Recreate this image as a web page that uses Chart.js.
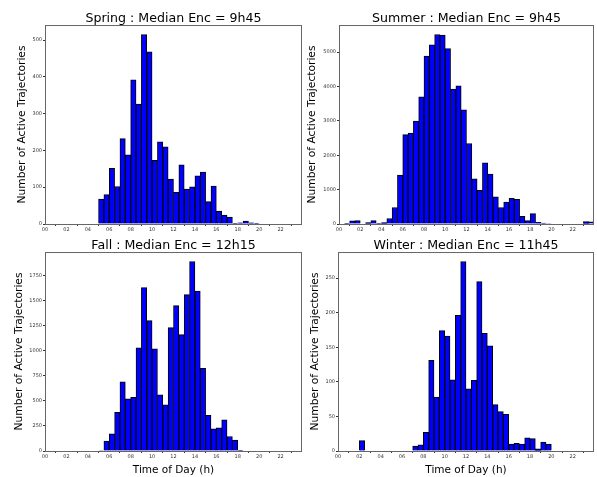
<!DOCTYPE html>
<html>
<head>
<meta charset="utf-8">
<script src="https://cdn.jsdelivr.net/npm/chart.js@4.4.1/dist/chart.umd.min.js"></script>
<style>
  body { margin: 0; background: #fff; }
  #wrap { position: relative; width: 597px; height: 477px; overflow: hidden; }
  canvas { position: absolute; }
</style>
</head>
<body>
<div id="wrap">
  <canvas id="spring" width="305" height="240" style="left:0;top:0"></canvas>
  <canvas id="summer" width="292" height="240" style="left:305px;top:0"></canvas>
  <canvas id="fall" width="305" height="247" style="left:0;top:230px"></canvas>
  <canvas id="winter" width="292" height="247" style="left:305px;top:230px"></canvas>
</div>
<script>
// 30-minute bins, 00h00 -> 24h00 (48 bins)
const binCenters = Array.from({ length: 48 }, (_, i) => i * 0.5 + 0.25);
const hourTicks = [0, 2, 4, 6, 8, 10, 12, 14, 16, 18, 20, 22];

const springCounts = [0, 0, 0, 0, 0, 0, 0, 0, 0, 0,
  68, 80, 151, 102, 232, 188, 392, 326, 515, 468,
  173, 223, 210, 122, 86, 161, 95, 101, 131, 141,
  61, 103, 35, 24, 19, 2, 3, 8, 3, 1,
  0, 0, 0, 0, 0, 0, 0, 0];

const summerCounts = [0, 10, 90, 100, 0, 40, 100, 5, 40, 160,
  480, 1420, 2600, 2640, 2990, 3700, 4880, 5210, 5510, 5490,
  5100, 3920, 4020, 3320, 2340, 1310, 980, 1780, 1450, 790,
  480, 640, 750, 720, 220, 100, 300, 50, 30, 15,
  0, 0, 0, 0, 0, 0, 70, 60];

const fallCounts = [0, 0, 0, 0, 0, 0, 0, 0, 0, 0,
  5, 100, 170, 385, 690, 520, 535, 1030, 1630, 1300,
  1020, 560, 460, 1230, 1450, 1160, 1560, 1890, 1595, 825,
  355, 220, 230, 310, 145, 110, 2, 0, 0, 0,
  0, 0, 0, 0, 0, 0, 0, 0];

const winterCounts = [0, 0, 0, 0, 15, 0, 0, 0, 0, 0,
  0, 0, 0, 0, 7, 9, 27, 131, 78, 174,
  166, 103, 196, 274, 90, 102, 245, 170, 152, 67,
  57, 53, 10, 11, 10, 19, 18, 3, 13, 10,
  0, 0, 0, 0, 0, 0, 0, 0];

const FONT = 'DejaVu Sans';

// box around the plotting area (matplotlib spines)
const frame = {
  id: 'frame',
  afterDraw(chart) {
    const { ctx, chartArea: a } = chart;
    ctx.save();
    ctx.strokeStyle = '#666';
    ctx.lineWidth = 1;
    ctx.strokeRect(a.left + 0.5, a.top + 0.5, a.right - a.left - 1, a.bottom - a.top);
    ctx.restore();
  }
};

function makeHist(id, counts, title, step, o) {
  new Chart(document.getElementById(id), {
    type: 'bar',
    data: {
      datasets: [{
        data: binCenters.map((x, i) => ({ x, y: counts[i] })),
        backgroundColor: '#0000ff',
        borderColor: '#000',
        borderWidth: 1,
        barPercentage: 1,
        categoryPercentage: 1,
      }]
    },
    plugins: [frame],
    options: {
      responsive: false,
      animation: false,
      layout: { padding: { right: 3 } },
      scales: {
        x: {
          type: 'linear',
          min: 0,
          max: 24,
          offset: false,
          afterBuildTicks: s => { s.ticks = hourTicks.map(v => ({ value: v })); },
          afterFit: s => { s.height = o.xh; },
          grid: { drawOnChartArea: false, tickLength: 2, color: '#333' },
          border: { display: false },
          ticks: {
            padding: 1,
            maxRotation: 0,
            autoSkip: false,
            color: '#333',
            font: { family: FONT, size: 5 },
            callback: v => String(v).padStart(2, '0')
          },
          title: {
            display: o.xlabel,
            text: 'Time of Day (h)',
            color: '#000',
            font: { family: FONT, size: 10.5 },
            padding: { top: 1, bottom: 0 }
          }
        },
        y: {
          min: 0,
          max: Math.max(...counts) * 1.05,
          afterBuildTicks: s => {
            const t = [];
            for (let v = 0; v <= s.max; v += step) t.push({ value: v });
            s.ticks = t;
          },
          afterFit: s => { s.width = o.yw; },
          grid: { drawOnChartArea: false, tickLength: 2, color: '#333' },
          border: { display: false },
          ticks: {
            padding: 1,
            autoSkip: false,
            color: '#333',
            font: { family: FONT, size: 5 },
            callback: v => v
          },
          title: {
            display: true,
            text: 'Number of Active Trajectories',
            color: '#000',
            font: { family: FONT, size: 10.7 },
            padding: { top: o.yPad, bottom: 0 }
          }
        }
      },
      plugins: {
        legend: { display: false },
        tooltip: { enabled: false },
        title: {
          display: true,
          fullSize: false,
          text: title,
          color: '#000',
          font: { family: FONT, size: 12.6, weight: 'normal' },
          padding: { top: o.tTop, bottom: o.tBot }
        }
      }
    }
  });
}

makeHist('spring', springCounts, 'Spring : Median Enc = 9h45', 100, { xh: 16, yw: 45, yPad: 16, tTop: 11.4, tBot: -1.5, xlabel: false });
makeHist('summer', summerCounts, 'Summer : Median Enc = 9h45', 1000, { xh: 16, yw: 34, yPad: 0.5, tTop: 11.4, tBot: -1.5, xlabel: false });
makeHist('fall', fallCounts, 'Fall : Median Enc = 12h15', 250, { xh: 26, yw: 45, yPad: 12.7, tTop: 7.7, tBot: -0.8, xlabel: true });
makeHist('winter', winterCounts, 'Winter : Median Enc = 11h45', 50, { xh: 26, yw: 33, yPad: 3.7, tTop: 7.7, tBot: -0.8, xlabel: true });
</script>
</body>
</html>
